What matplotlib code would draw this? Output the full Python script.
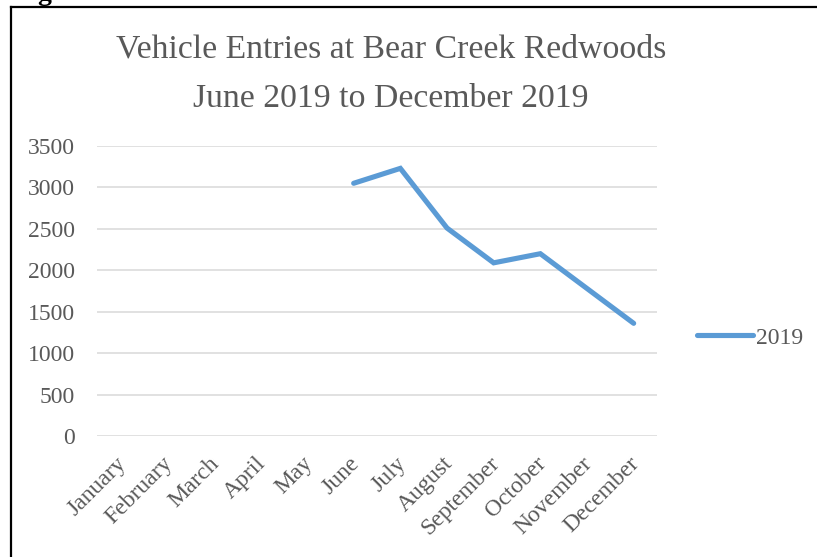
import matplotlib
matplotlib.use("Agg")
import matplotlib.pyplot as plt
import matplotlib.transforms as mtransforms
from matplotlib.lines import Line2D

months = ["January", "February", "March", "April", "May", "June", "July",
          "August", "September", "October", "November", "December"]
# entries only known June..December 2019
entries_months = months[5:]
entries_2019 = [3050, 3230, 2510, 2090, 2200, 1780, 1360]
yticks = [0, 500, 1000, 1500, 2000, 2500, 3000, 3500]

GRAY = "#595959"
BLUE = "#5B9BD5"
SERIF = ["Liberation Serif", "DejaVu Serif"]

plt.rcParams["font.family"] = SERIF

W, H = 817, 557
fig = plt.figure(figsize=(W / 100, H / 100), dpi=100)
ax = fig.add_axes([97 / W, 1 - 436 / H, (657 - 97) / W, (436 - 146) / H])

x = [months.index(m) for m in entries_months]
ax.plot(x, entries_2019, color=BLUE, lw=3.7, solid_capstyle="round",
        solid_joinstyle="miter")

ax.set_xlim(-0.5, len(months) - 0.5)
ax.set_ylim(0, 3500)
ax.set_yticks(yticks)
ax.set_yticklabels([str(v) for v in yticks])
ax.set_xticks(range(len(months)))
ax.set_xticklabels(months, rotation=45, ha="right", va="top",
                   rotation_mode="anchor")
ax.tick_params(axis="both", length=0, labelsize=17, labelcolor=GRAY)
ax.tick_params(axis="y", pad=16)
ax.tick_params(axis="x", pad=12)
# nudge rotated month labels a few pixels left
shift = mtransforms.ScaledTranslation(-5 / 100, 0, fig.dpi_scale_trans)
for lab in ax.get_xticklabels():
    lab.set_transform(lab.get_transform() + shift)
ax.grid(axis="y", color="#D9D9D9", lw=1.1)
ax.set_axisbelow(True)
for s in ax.spines.values():
    s.set_visible(False)

fig.text(391 / W, 1 - 74 / H,
         "Vehicle Entries at Bear Creek Redwoods\nJune 2019 to December 2019",
         ha="center", va="center", fontsize=24.3, color=GRAY, linespacing=1.8)

# legend to the right of the plot
fig.legend(handles=[Line2D([], [], color=BLUE, lw=3.7, solid_capstyle="round")],
           labels=["2019"], loc="center left",
           bbox_to_anchor=(685 / W, 1 - 338 / H), frameon=False,
           handlelength=2.4, handletextpad=0.1, fontsize=17,
           labelcolor=GRAY, borderpad=0)

# page border (only left and top edges fall inside the crop)
fig.add_artist(Line2D([10.5 / W, 10.5 / W], [0, 1 - 7 / H], color="black",
                      lw=1.6, transform=fig.transFigure))
fig.add_artist(Line2D([10.5 / W, 1], [1 - 7 / H, 1 - 7 / H], color="black",
                      lw=1.6, transform=fig.transFigure))
fig.text(37 / W, 1 - 0 / H, "g", fontsize=20, fontweight="bold",
         ha="left", va="baseline", color="black")

fig.savefig("out.png", dpi=100)
